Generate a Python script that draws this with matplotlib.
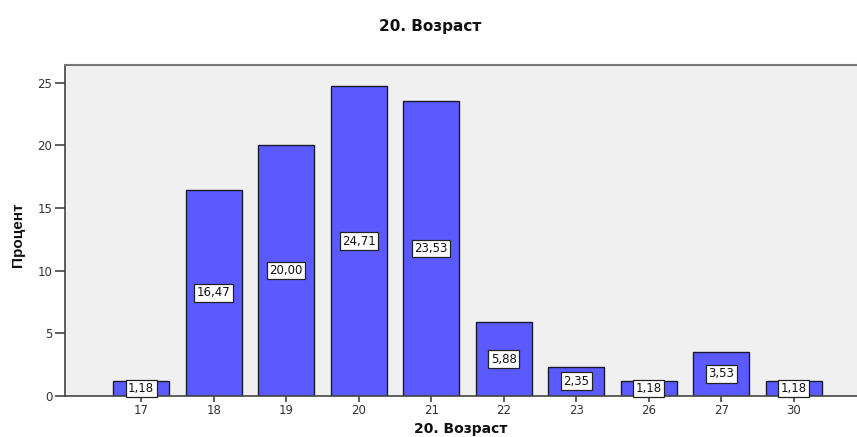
import matplotlib
matplotlib.use("Agg")
import matplotlib.pyplot as plt
import numpy as np

categories = ["17", "18", "19", "20", "21", "22", "23", "26", "27", "30"]
percents = [1.18, 16.47, 20.00, 24.71, 23.53, 5.88, 2.35, 1.18, 3.53, 1.18]
value_labels = ["1,18", "16,47", "20,00", "24,71", "23,53", "5,88", "2,35", "1,18", "3,53", "1,18"]
yticks = [0, 5, 10, 15, 20, 25]

plt.rcParams['font.family'] = ['DejaVu Sans']

fig = plt.figure(figsize=(8.57, 4.37), dpi=100)
ax = fig.add_axes([65/857, 41/437, 1 - 65/857, (396-65)/437])
ax.set_facecolor("#f0f0f0")

x = np.arange(len(categories))
ax.bar(x, percents, width=0.77, color="#5a5aff", edgecolor="#1a1a2a", linewidth=1.0, zorder=2)

for xi, v, lab in zip(x, percents, value_labels):
    ax.text(xi, v / 2, lab, ha="center", va="center", fontsize=8.5, zorder=3, clip_on=False,
            color="#111111",
            bbox=dict(boxstyle="square,pad=0.2", facecolor="white", edgecolor="#222222", linewidth=0.9))

ax.set_xlim(-1.05, len(categories) - 1 + 0.87)
ax.set_ylim(0, 26.4)
ax.set_xticks(x)
ax.set_xticklabels(categories, fontsize=8.5, color="#333333")
ax.set_yticks(yticks)
ax.set_yticklabels([str(t) for t in yticks], fontsize=8.5, color="#333333")
ax.tick_params(axis="x", length=4, width=1.2, color="#444444", pad=2)
ax.tick_params(axis="y", length=7, width=1.2, color="#444444", pad=2)

ax.spines["right"].set_visible(False)
ax.spines["top"].set_color("#777777")
ax.spines["top"].set_linewidth(1.5)
ax.spines["left"].set_color("#444444")
ax.spines["left"].set_linewidth(1.2)
ax.spines["bottom"].set_color("#444444")
ax.spines["bottom"].set_linewidth(1.2)

ax.set_xlabel("20. Возраст", fontsize=10, fontweight="bold", labelpad=3, color="#111111")
fig.text(18/857, 1 - 235/437, "Процент", rotation=90, ha="center", va="center", fontsize=11,
         fontweight="bold", family=["Liberation Sans", "DejaVu Sans"], color="#111111")
fig.text(430/857, 1 - 27/437, "20. Возраст", ha="center", va="center", fontsize=11,
         fontweight="bold", color="#111111")

fig.savefig("out.png", dpi=100)
